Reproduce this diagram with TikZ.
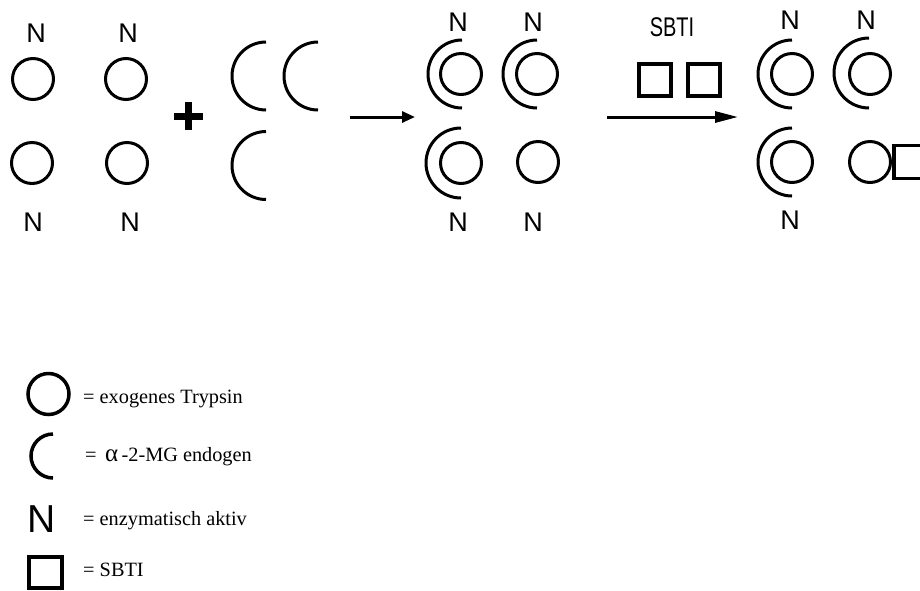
\documentclass[tikz,border=0pt]{standalone}
\usepackage{fontspec}
\setmainfont{Liberation Serif}
\newfontfamily\labfont{Liberation Sans}
\usetikzlibrary{arrows.meta}
\tikzset{
  tcirc/.style={circle,draw,line width=3pt,minimum size=41pt,inner sep=0pt},
  amg/.style={line width=3pt},
  sbtibox/.style={draw,line width=3.5pt},
  nlab/.style={inner sep=0pt,font=\labfont\fontsize{27}{27}\selectfont},
  legtext/.style={anchor=base west,inner sep=0pt,font=\fontsize{20.3}{21}\selectfont},
  reactarrow/.style={line width=3pt},
}
\begin{document}
\begin{tikzpicture}[x=1pt,y=-1pt]
\clip (0,0) rectangle (920,590);
\fill[white] (0,0) rectangle (920,590);
% ---------- panel 1: free trypsin ----------
\node[tcirc] (p1a) at (33,79) {};
\node[tcirc] (p1b) at (126,79) {};
\node[tcirc] (p1c) at (32,163) {};
\node[tcirc] (p1d) at (127,163) {};
\node[nlab] (n1a) at (36,33) {N};
\node[nlab] (n1b) at (128,33) {N};
\node[nlab] (n1c) at (33,222) {N};
\node[nlab] (n1d) at (130,222) {N};
% plus
\coordinate (plus) at (188.5,116);
\draw[line width=7pt] (plus) ++(-14.5,0) -- ++(29,0);
\draw[line width=7pt] (plus) ++(0,-14) -- ++(0,28);
% free alpha-2-MG
\coordinate (m1) at (266,76);
\coordinate (m2) at (318,76);
\coordinate (m3) at (266,165.5);
\draw[amg] (m1) ++(0,34) arc[start angle=90,end angle=270,radius=34];
\draw[amg] (m2) ++(0,34) arc[start angle=90,end angle=270,radius=34];
\draw[amg] (m3) ++(0,34) arc[start angle=90,end angle=270,radius=34];
% arrow 1
\coordinate (a1s) at (350,117);
\coordinate (a1e) at (415,117);
\draw[reactarrow,-{Triangle[length=13pt,width=11pt]}] (a1s) -- (a1e);
% ---------- panel 2 ----------
\node[tcirc] (p2a) at (461,74) {};
\node[tcirc] (p2b) at (537,74) {};
\node[tcirc] (p2c) at (461,163) {};
\node[tcirc] (p2d) at (538,162) {};
\draw[amg] (p2a.center) ++(1,34) arc[start angle=90,end angle=270,radius=34];
\draw[amg] (p2b.center) ++(0,34) arc[start angle=90,end angle=270,radius=34];
\draw[amg] (p2c.center) ++(0,35) arc[start angle=90,end angle=270,radius=35];
\node[nlab] (n2a) at (458,22) {N};
\node[nlab] (n2b) at (533,22) {N};
\node[nlab] (n2c) at (458,222) {N};
\node[nlab] (n2d) at (533,222) {N};
% arrow 2 with SBTI
\coordinate (a2s) at (607,117);
\coordinate (a2e) at (738,117);
\draw[reactarrow,-{Triangle[length=23pt,width=11pt]}] (a2s) -- (a2e);
\node[nlab] (sbtilab) at (672,27) {\scalebox{0.74}[1]{SBTI}};
\node[sbtibox,minimum size=32pt,inner sep=0pt] (s1) at (655,80) {};
\node[sbtibox,minimum size=32pt,inner sep=0pt] (s2) at (704,80) {};
% ---------- panel 3 ----------
\node[tcirc] (p3a) at (792,74) {};
\node[tcirc] (p3b) at (870,74) {};
\node[tcirc] (p3c) at (792,162) {};
\node[tcirc] (p3d) at (870,162) {};
\draw[amg] (p3a.center) ++(0,34) arc[start angle=90,end angle=270,radius=34];
\draw[amg] (p3b.center) ++(-1,34) arc[start angle=90,end angle=270,radius=35];
\draw[amg] (p3c.center) ++(0,34) arc[start angle=90,end angle=270,radius=34];
\node[sbtibox,minimum width=36pt,minimum height=33pt,inner sep=0pt,anchor=west] (s3) at (p3d.east) {};
\node[nlab] (n3a) at (790,20) {N};
\node[nlab] (n3b) at (866,20) {N};
\node[nlab] (n3c) at (790,220) {N};
% ---------- legend ----------
\node[circle,draw,line width=3.5pt,minimum size=41pt,inner sep=0pt] (lc) at (48.5,394) {};
\node[legtext] (lt1) at (83,403) {= exogenes Trypsin};
\coordinate (la) at (53,456);
\draw[line width=3.5pt] (la) ++(0,22) arc[start angle=90,end angle=270,radius=22];
\node[legtext] (lt2) at (85,461) {= \,{\fontsize{25}{25}\selectfont α}\,-2-MG endogen};
\node[inner sep=0pt,font=\labfont\fontsize{39}{39}\selectfont] (ln) at (41.5,519) {N};
\node[legtext] (lt3) at (83,525) {= enzymatisch aktiv};
\node[draw,line width=4pt,minimum width=33pt,minimum height=31pt,inner sep=0pt] (ls) at (45.5,572.5) {};
\node[legtext] (lt4) at (83,576) {= SBTI};
\end{tikzpicture}
\end{document}
